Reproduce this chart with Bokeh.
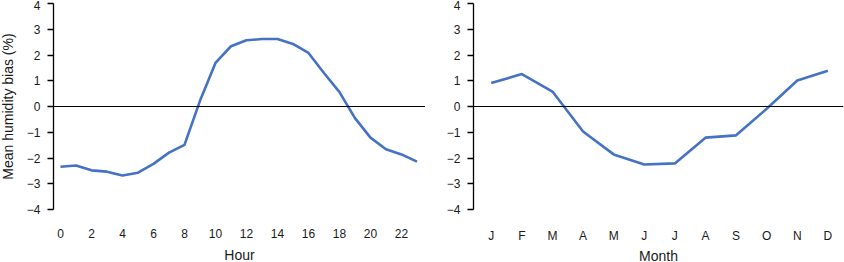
from bokeh.plotting import figure
from bokeh.layouts import row
from bokeh.models import Range1d, FixedTicker, Span, GlobalInlineStyleSheet
from bokeh.embed import file_html
from bokeh.resources import INLINE

hours = list(range(24))
hour_bias = [-2.34, -2.29, -2.48, -2.53, -2.68, -2.57, -2.23, -1.79, -1.49, 0.22,
             1.69, 2.34, 2.57, 2.62, 2.62, 2.43, 2.08, 1.30, 0.56, -0.45,
             -1.21, -1.66, -1.86, -2.14]
hour_ticks = list(range(0, 24, 2))

months = list(range(1, 13))
month_labels = ["J", "F", "M", "A", "M", "J", "J", "A", "S", "O", "N", "D"]
month_bias = [0.91, 1.26, 0.58, -0.97, -1.86, -2.25, -2.21, -1.21, -1.12, -0.09, 1.01, 1.39]

y_ticks = [-4, -3, -2, -1, 0, 1, 2, 3, 4]

LINE = "#4472C4"
FONT = "Liberation Sans"
TXT = "#1a1a1a"


def style(p, xlabel, ylabel, xlabel_standoff):
    p.outline_line_color = None
    p.grid.grid_line_color = None
    p.background_fill_color = None
    p.border_fill_color = None
    ya = p.yaxis[0]
    ya.ticker = FixedTicker(ticks=y_ticks)
    ya.major_label_overrides = {t: ("\u2212" + str(-t)) if t < 0 else str(t) for t in y_ticks}
    ya.major_tick_out = 6
    ya.major_tick_in = 0
    ya.minor_tick_out = 0
    ya.minor_tick_in = 0
    ya.axis_line_width = 1.3
    ya.major_tick_line_width = 1.3
    ya.axis_line_color = "black"
    ya.major_tick_line_color = "black"
    ya.major_label_text_font = FONT
    ya.major_label_text_font_size = "12px"
    ya.major_label_text_color = TXT
    ya.major_label_standoff = 7
    ya.major_label_orientation = "horizontal"
    if ylabel:
        ya.axis_label = ylabel
        ya.axis_label_text_font = FONT
        ya.axis_label_text_font_size = "14px"
        ya.axis_label_text_font_style = "normal"
        ya.axis_label_text_color = TXT
        ya.axis_label_standoff = 8
    xa = p.xaxis[0]
    xa.axis_line_color = None
    xa.major_tick_line_color = None
    xa.minor_tick_line_color = None
    xa.major_tick_out = 0
    xa.major_tick_in = 0
    xa.major_label_text_font = FONT
    xa.major_label_text_font_size = "12px"
    xa.major_label_text_color = TXT
    xa.major_label_standoff = 19
    xa.axis_label = xlabel
    xa.axis_label_text_font = FONT
    xa.axis_label_text_font_size = "14px"
    xa.axis_label_text_font_style = "normal"
    xa.axis_label_text_color = TXT
    xa.axis_label_standoff = xlabel_standoff
    p.add_layout(Span(location=0, dimension="width", line_color="black", line_width=1.2))


p1 = figure(width=429, height=270, output_backend="svg", toolbar_location=None,
            x_range=Range1d(-0.45, 23.55), y_range=Range1d(-4, 4),
            min_border_left=57, min_border_right=0, min_border_top=3, min_border_bottom=61)
p1.line(hours, hour_bias, line_color=LINE, line_width=2.6, line_join="round")
style(p1, "Hour", "Mean humidity bias (%)", 6)
p1.xaxis[0].ticker = FixedTicker(ticks=hour_ticks)

p2 = figure(width=419, height=270, output_backend="svg", toolbar_location=None,
            x_range=Range1d(0.42, 12.51), y_range=Range1d(-4, 4),
            min_border_left=48, min_border_right=1, min_border_top=3, min_border_bottom=61)
p2.line(months, month_bias, line_color=LINE, line_width=2.6, line_join="round")
style(p2, "Month", None, 2)
p2.xaxis[0].ticker = FixedTicker(ticks=months)
p2.xaxis[0].major_label_overrides = {m: lab for m, lab in zip(months, month_labels)}

layout = row(p1, p2, spacing=0, styles={"margin-left": "-4px"})
layout.stylesheets = [GlobalInlineStyleSheet(css="html, body { margin: 0 !important; padding: 0; overflow: hidden; }")]

open("out.html", "w").write(file_html(layout, INLINE))
